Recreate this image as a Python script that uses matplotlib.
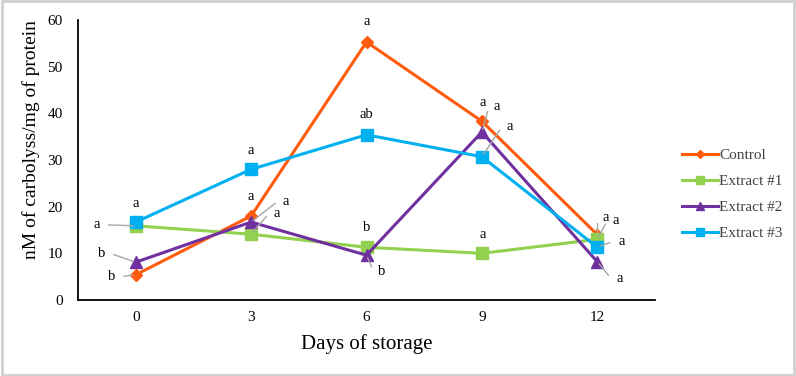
import numpy as np
import matplotlib.pyplot as plt
from matplotlib.patches import Rectangle

# --- data ---
days = ["0", "3", "6", "9", "12"]
control = [5.4, 18.0, 55.3, 38.3, 14.0]
extract1 = [15.9, 14.1, 11.3, 10.0, 13.0]
extract2 = [8.1, 16.7, 9.6, 36.0, 8.2]
extract3 = [16.7, 28.0, 35.4, 30.7, 11.3]

letters_control = ["b", "a", "a", "a", "a"]
letters_ext1 = ["a", "a", "b", "a", "a"]
letters_ext2 = ["b", "a", "b", "a", "a"]
letters_ext3 = ["a", "a", "ab", "a", "a"]

series_names = ["Control", "Extract #1", "Extract #2", "Extract #3"]

plt.rcParams['font.family'] = ['Liberation Serif', 'DejaVu Serif']

colors = ['#ff5b0d', '#92d050', '#7030a0', '#00b0f0']
markers = ['D', 's', '^', 's']
msizes = [6, 8, 8, 8]

# label offsets in pixels (dx, dy up), leader line or not
offsets = [
    [(-24, -2, True), (0, 19, False), (0, 20, False), (1, 19, False), (8, 17, True)],
    [(-39, 1, True), (26, 21, True), (0, 20, False), (1, 19, False), (18, 19, True)],
    [(-34, 9, True), (35, 21, True), (15, -16, True), (15, 25, True), (22, -17, True)],
    [(0, 19, False), (0, 19, False), (0, 20, False), (28, 30, True), (24, 6, True)],
]

fig = plt.figure(figsize=(7.96, 3.76), dpi=100)
ax = fig.add_axes([78 / 796, 1 - 300 / 376, (655 - 78) / 796, 280 / 376])

x = np.arange(len(days))
all_series = [control, extract1, extract2, extract3]
all_letters = [letters_control, letters_ext1, letters_ext2, letters_ext3]
for vals, name, c, m, ms in zip(all_series, series_names, colors, markers, msizes):
    ax.plot(x, vals, color=c, marker=m, markersize=ms, lw=2.2, label=name)

px = 0.72  # pixel -> points
for vals, lets, offs in zip(all_series, all_letters, offsets):
    for i, (v, l, (dx, dy, lead)) in enumerate(zip(vals, lets, offs)):
        if lead:
            s = 1 if dx >= 0 else -1
            ang = np.degrees(np.arctan2(dy, dx - s * 8))
            ax.annotate(l, xy=(i, v), xytext=(dx * px, dy * px), textcoords='offset points',
                        ha='center', va='center', fontsize=10.5,
                        arrowprops=dict(arrowstyle='-', color='#a6a6a6', lw=1,
                                        shrinkA=4, shrinkB=2,
                                        connectionstyle=f'angle,angleA=0,angleB={ang:.1f},rad=0'))
        else:
            ax.annotate(l, xy=(i, v), xytext=(dx * px, dy * px), textcoords='offset points',
                        ha='center', va='center', fontsize=10.5)

ax.set_xlim(-0.5, 4.5)
ax.set_ylim(0, 60)
ax.set_yticks(range(0, 61, 10))
ax.set_xticks(x)
ax.set_xticklabels(days)
ax.tick_params(length=0, labelsize=11, pad=8)
ax.tick_params(axis='y', pad=11)
for sp in ['top', 'right']:
    ax.spines[sp].set_visible(False)
ax.spines['left'].set_linewidth(1.3)
ax.spines['bottom'].set_linewidth(1.3)
ax.set_xlabel("Days of storage", fontsize=15, labelpad=7)
ax.set_ylabel("nM of carbolyss/mg of protein", fontsize=14, va='center')
ax.yaxis.set_label_coords(-0.082, 0.572)

leg = fig.legend(loc='upper left', bbox_to_anchor=(668 / 796, 1 - 135 / 376), frameon=False,
                 fontsize=11, handlelength=2.4, handletextpad=0.05, labelspacing=0.8,
                 markerscale=0.7, labelcolor='#404040')

fig.add_artist(Rectangle((0.002, 0.003), 0.996, 0.994, transform=fig.transFigure,
                         fill=False, edgecolor='#d0d0d0', lw=2))

fig.savefig("out.png", dpi=100)
